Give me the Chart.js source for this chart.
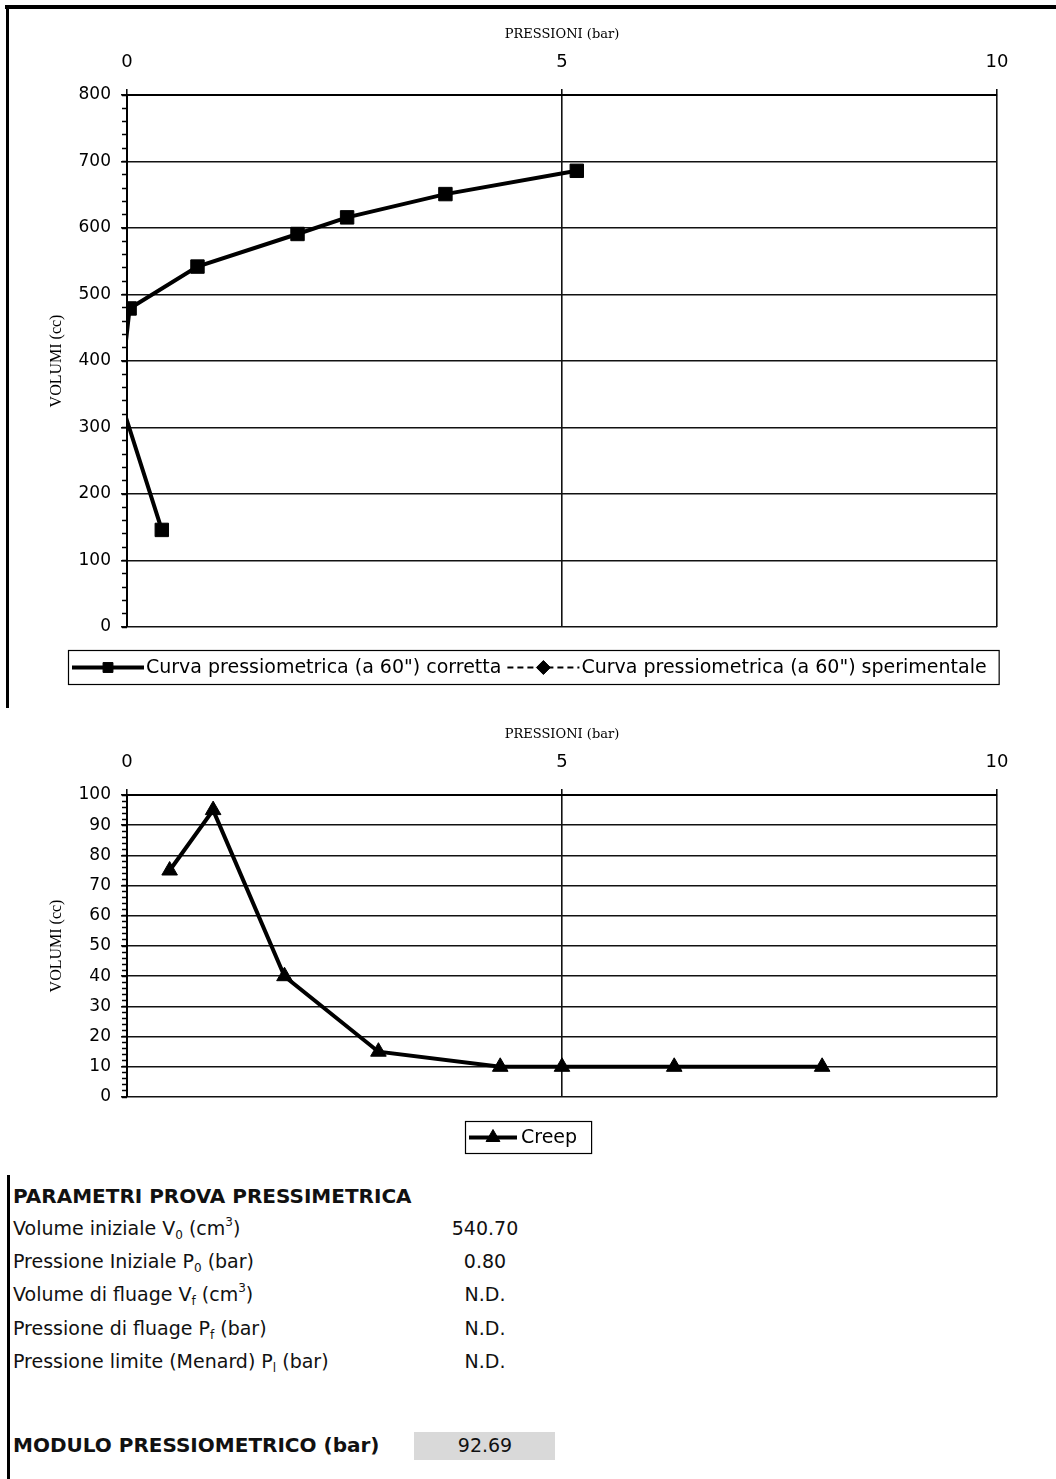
<!DOCTYPE html>
<html>
<head>
<meta charset="utf-8">
<title>Prova pressiometrica</title>
<script src="https://cdn.jsdelivr.net/npm/chart.js@4.4.1/dist/chart.umd.min.js"></script>
<style>
body { margin:0; background:#fff; font-family:"DejaVu Sans", sans-serif; color:#111; }
#page { position:relative; width:1056px; height:1479px; overflow:hidden; background:#fff; }
canvas { position:absolute; left:0; }
#c1 { top:0; }
#c2 { top:710px; }
.rule { position:absolute; background:#000; }
.row { position:absolute; height:26px; line-height:26px; font-size:19px; white-space:nowrap; }
.lbl { left:13px; }
.val { left:405px; width:160px; text-align:center; }
.bold { font-weight:bold; font-size:20px; }
sub { font-size:12px; line-height:0; vertical-align:-4px; }
sup { font-size:12px; line-height:0; vertical-align:9px; }
#modBox { position:absolute; left:414px; top:1432px; width:141px; height:28px; background:#d9d9d9; }
</style>
</head>
<body>
<div id="page">
  <div class="rule" style="left:5px;top:5px;width:1051px;height:4px"></div>
  <div class="rule" style="left:6px;top:5px;width:3px;height:703px"></div>
  <div class="rule" style="left:7px;top:1175px;width:3px;height:304px"></div>
  <div id="modBox"></div>
  <canvas id="c1" width="1056" height="710"></canvas>
  <canvas id="c2" width="1056" height="460"></canvas>
  <div id="params"></div>
</div>
<script>
// ---------- DATA ----------
const xTicks = [0, 5, 10];
const yTicksTop = [0, 100, 200, 300, 400, 500, 600, 700, 800];
const yTicksCreep = [0, 10, 20, 30, 40, 50, 60, 70, 80, 90, 100];

// curva corretta (a 60") - il secondo punto cade a sinistra dell'asse
const pressCorr = [0.40, -0.085, 0.03, 0.81, 1.96, 2.53, 3.66, 5.17];
const volCorr   = [146, 345, 479, 542, 591, 616, 651, 686];

// curva sperimentale: nessun punto visibile nel grafico
const pressSper = [];
const volSper   = [];

// creep
const pressCreep = [0.49, 0.99, 1.81, 2.89, 4.29, 5.00, 6.29, 7.99];
const volCreep   = [75, 95, 40, 15, 10, 10, 10, 10];

// parametri
const paramTitle = 'PARAMETRI PROVA PRESSIMETRICA';
const paramLabels = [
    'Volume iniziale V<sub>0</sub> (cm<sup>3</sup>)',
    'Pressione Iniziale P<sub>0</sub> (bar)',
    'Volume di fluage V<sub>f</sub> (cm<sup>3</sup>)',
    'Pressione di fluage P<sub>f</sub> (bar)',
    'Pressione limite (Menard) P<sub>l</sub> (bar)'
];
const paramValues = ['540.70', '0.80', 'N.D.', 'N.D.', 'N.D.'];
const moduloLabel = 'MODULO PRESSIOMETRICO (bar)';
const moduloValue = '92.69';

function toXY(xs, ys){
    return xs.map((x, i) => ({ x: x, y: ys[i] }));
}

Chart.defaults.font.family = '"DejaVu Sans", sans-serif';
Chart.defaults.color = '#000';

// ---------- LEGEND (excel style: line + marker + text in a box) ----------
const boxLegend = {
    id: 'boxLegend',
    afterDraw(chart, args, o){
        const ctx = chart.ctx;
        ctx.save();
        ctx.font = o.font;
        const items = chart.data.datasets.map(ds => ({ ds: ds, w: ctx.measureText(ds.label).width }));
        let total = o.padL + o.padR;
        items.forEach((it, i) => { total += o.sample + o.gap + it.w + (i ? o.itemGap : 0); });
        ctx.lineWidth = 1.2;
        ctx.strokeStyle = '#000';
        ctx.strokeRect(o.x + .5, o.y + .5, total, o.h);
        const cy = o.y + o.h / 2 + 0.5;
        let x = o.x + o.padL;
        items.forEach((it, i) => {
            const ds = it.ds;
            if (i) x += o.itemGap;
            ctx.strokeStyle = ds.borderColor;
            ctx.lineWidth = ds.borderWidth;
            ctx.setLineDash(ds.borderDash || []);
            ctx.beginPath(); ctx.moveTo(x, cy); ctx.lineTo(x + o.sample, cy); ctx.stroke();
            ctx.setLineDash([]);
            ctx.fillStyle = ds.pointBackgroundColor;
            ctx.strokeStyle = ds.pointBorderColor;
            ctx.lineWidth = ds.pointBorderWidth;
            Chart.helpers.drawPoint(ctx, { pointStyle: ds.pointStyle, radius: o.radius, borderWidth: ds.pointBorderWidth, rotation: 0 }, x + o.sample / 2, cy);
            x += o.sample + o.gap;
            ctx.fillStyle = '#000';
            ctx.textAlign = 'left';
            ctx.textBaseline = 'middle';
            ctx.fillText(ds.label, x, cy + 1);
            x += it.w;
        });
        ctx.restore();
    }
};

const gridBlack = { color: '#111', lineWidth: 1.6, tickLength: 6, tickColor: '#000', tickWidth: 1.5 };
const borderBlack = { color: '#000', width: 2 };

function xAxis(h){
    return {
        type: 'linear', position: 'top', min: 0, max: 10,
        afterBuildTicks: s => { s.ticks = xTicks.map(v => ({ value: v })); },
        afterFit: s => { s.height = h; },
        grid: gridBlack, border: borderBlack,
        ticks: { font: { size: 18 }, padding: 16, color: '#000' },
        title: { display: true, text: 'PRESSIONI (bar)', color: '#000',
                 font: { family: '"DejaVu Serif", serif', size: 13 }, padding: { top: h - 68, bottom: 0 } }
    };
}

function yAxis(max, ticks){
    return {
        type: 'linear', position: 'left', min: 0, max: max, weight: 1,
        afterBuildTicks: s => { s.ticks = ticks.map(v => ({ value: v })); },
        afterFit: s => { s.width = 127; },
        grid: gridBlack, border: borderBlack,
        ticks: { font: { size: 17 }, padding: 10, color: '#000' },
        title: { display: true, text: 'VOLUMI (cc)', color: '#000',
                 font: { family: '"Liberation Serif", serif', size: 16 }, padding: { top: 47, bottom: 0 } }
    };
}

function yMinor(max, step){
    return {
        type: 'linear', axis: 'y', position: 'left', min: 0, max: max, weight: -1,
        afterFit: s => { s.width = 0; },
        ticks: { display: false, stepSize: step },
        grid: { drawOnChartArea: false, drawTicks: true, tickLength: 5, tickColor: '#000', tickWidth: 1.5 },
        border: { display: false }
    };
}

// ---------- CURVA PRESSIOMETRICA ----------
new Chart(document.getElementById('c1'), {
    type: 'scatter',
    data: {
        datasets: [
            { label: 'Curva pressiometrica (a 60") corretta', data: toXY(pressCorr, volCorr), showLine: true,
              borderColor: '#000', borderWidth: 4, pointStyle: 'rect', pointRadius: 9.5,
              pointBackgroundColor: '#000', pointBorderColor: '#000', pointBorderWidth: 1 },
            { label: 'Curva pressiometrica (a 60") sperimentale', data: toXY(pressSper, volSper), showLine: true,
              borderColor: '#000', borderWidth: 2, borderDash: [6, 4], pointStyle: 'rectRot', pointRadius: 6,
              pointBackgroundColor: '#000', pointBorderColor: '#000', pointBorderWidth: 1 }
        ]
    },
    options: {
        responsive: false, animation: false,
        layout: { padding: { left: 0, top: 0, right: 59, bottom: 83 } },
        plugins: {
            legend: { display: false }, tooltip: { enabled: false },
            boxLegend: { x: 68, y: 650, h: 34, padL: 4, padR: 12, sample: 72, gap: 2, itemGap: 6, radius: 7, font: '19px "DejaVu Sans"' }
        },
        scales: { x: xAxis(95), y: yAxis(800, yTicksTop), yMinor: yMinor(800, 20) }
    },
    plugins: [boxLegend]
});

// ---------- CREEP ----------
new Chart(document.getElementById('c2'), {
    type: 'scatter',
    data: {
        datasets: [
            { label: 'Creep', data: toXY(pressCreep, volCreep), showLine: true,
              borderColor: '#000', borderWidth: 4, pointStyle: 'triangle', pointRadius: 9,
              pointBackgroundColor: '#000', pointBorderColor: '#000', pointBorderWidth: 1 }
        ]
    },
    options: {
        responsive: false, animation: false,
        layout: { padding: { left: 0, top: 0, right: 59, bottom: 73 } },
        plugins: {
            legend: { display: false }, tooltip: { enabled: false },
            boxLegend: { x: 465, y: 411, h: 32, padL: 4, padR: 14, sample: 48, gap: 4, itemGap: 0, radius: 8, font: '19px "DejaVu Sans"' }
        },
        scales: { x: xAxis(85), y: yAxis(100, yTicksCreep), yMinor: yMinor(100, 2) }
    },
    plugins: [boxLegend]
});

// ---------- PARAMETRI ----------
const box = document.getElementById('params');
function addRow(cls, top, html){
    const d = document.createElement('div');
    d.className = 'row ' + cls;
    d.style.top = top + 'px';
    d.innerHTML = html;
    box.appendChild(d);
}
addRow('lbl bold', 1183, paramTitle);
paramLabels.forEach((t, i) => {
    const top = Math.round(1215 + i * 33.2);
    addRow('lbl', top, t);
    addRow('val', top, paramValues[i]);
});
addRow('lbl bold', 1432, moduloLabel);
addRow('val', 1432, moduloValue);
</script>
</body>
</html>
